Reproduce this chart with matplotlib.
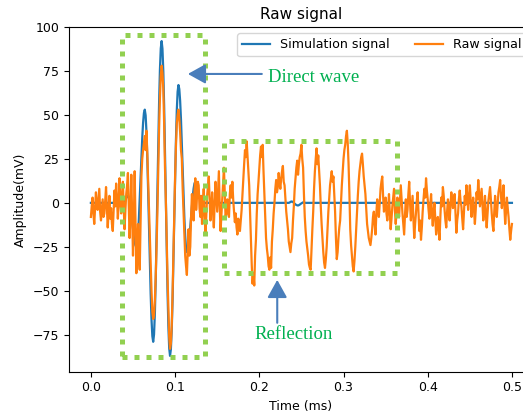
import numpy as np
import matplotlib
matplotlib.use("Agg")
import matplotlib.pyplot as plt
from matplotlib.patches import Rectangle

# Sampling step of both traces (ms)
dt = 0.001

# Measured raw signal (mV), split into stretches with their start time (ms)
raw_noise_start = [  # 0.000 - 0.035
    -8, -2, 3, -6, -12, -3, 6, -1, -4, 2, 8, -5, -10, -4, 2, -8, -6, 1,
    9, -2, -14, -6, 4, -9, -3, -12, -16, -4, 7, -2, 11, 3, -9, -1, 14, 2,
]
raw_onset = [  # 0.036 - 0.061
    -6, 4, 12, -3, -15, -4, 5, 10, 17, -2, -20, -5, 16, -8, -30, -10, 18,
    -12, -40, -25, -12, -30, -38, -10, 15, 25,
]
raw_direct = [  # 0.062 - 0.131
    30, 34, 38, 30, 41, 28, 12, -2, -20, -38,
    -50, -62, -66, -64, -55, -42, -25, -5, 20, 42,
    60, 72, 78, 74, 65, 45, 20, 2, -20, -42,
    -60, -76, -83, -80, -70, -52, -30, -8, 15, 32,
    45, 50, 53, 48, 40, 30, 25, 8, -5, -18,
    -30, -36, -41, -28, -15, -30, -25, -8, 5, -4,
    -10, 6, 14, -4, 3, 12, 10, -3, -8, 4,
]
raw_gap = [  # 0.132 - 0.161
    -12, -2, 8, -6, -17, -8, 4, 9, 15, 2, -10, -3, 6, -5, -14, 0, 12, 4,
    -5, 7, 18, -2, -16, -7, 3, 12, 20, 5, -9, -4,
]
raw_reflection = [  # 0.162 - 0.351
    2, -6, -8, 5, 10, 3, 12, 2, -5, -11,
    -6, -14, -18, -9, -12, -16, -10, -4, 5, 14,
    22, 30, 26, 35, 27, 20, 10, -5, -20, -35,
    -46, -40, -47, -30, -21, -6, 5, 12, 20, 27,
    32, 26, 33, 18, 5, -8, -20, -26, -30, -36,
    -38, -31, -37, -22, -15, -6, 0, 8, 13, 6,
    9, 17, 11, 8, 14, 18, 21, 12, 10, 2,
    -5, -10, -15, -22, -25, -28, -23, -20, -10, -2,
    8, 14, 20, 24, 16, 22, 26, 28, 33, 25,
    20, 5, -8, -16, -22, -26, -30, -35, -37, -38,
    -26, -15, -5, 8, 18, 25, 31, 22, 27, 18,
    10, -2, -12, -20, -28, -34, -37, -32, -25, -15,
    -5, 3, 10, 14, 18, 12, 15, 5, -5, -20,
    -32, -28, -20, -14, -10, 0, 10, 18, 25, 30,
    33, 38, 41, 34, 22, 5, -15, -24, -30, -36,
    -39, -33, -25, -15, -5, 4, 12, 18, 22, 26,
    28, 22, 15, 10, 5, -3, -12, -16, -20, -22,
    -24, -20, -15, -8, -5, -12, -18, -6, 2, -4,
    -8, 0, 8, 12, 15, 4, -5, -2, 3, -6,
]
raw_tail = [  # 0.352 - 0.500
    -10, -3, 5, -6, -15, -9, -2, 3, 8, -4,
    -12, -5, 3, -2, -8, 1, 10, 2, -6, -12,
    -18, -7, 2, -8, -4, 5, 12, 0, -10, -3,
    4, -9, -20, -12, -6, 1, 6, -5, -16, -10,
    -21, -14, -5, 2, 8, 3, 14, 7, 2, -4,
    -9, -1, 5, -6, -13, -5, 0, -9, -18, -12,
    -8, -15, -21, -8, 3, -2, 9, 4, -4, -10,
    -14, -5, 2, -3, -10, -2, 6, 1, -3, 2,
    5, -6, -17, -10, -6, 2, 7, 1, -2, -9,
    -15, -6, 4, -1, 10, 3, -4, 4, 10, 2,
    -8, -2, 3, -5, -12, -4, 6, 2, 13, 5,
    -2, 3, 8, -1, -10, -4, 4, -6, -14, -6,
    1, 5, 9, 2, -6, -12, -16, -5, 4, -3,
    -8, -1, 6, 9, 13, 4, -3, 3, 10, -2,
    -12, -5, 3, -3, -8, -15, -21, -16, -12,
]
raw_starts = [0.000, 0.036, 0.062, 0.132, 0.162, 0.352]
raw_parts = [raw_noise_start, raw_onset, raw_direct, raw_gap,
             raw_reflection, raw_tail]

# Simulated signal (mV) on a 0.001 ms grid from 0 to 0.5 ms
sim_wavelet = [  # 0.036 - 0.136
    0.0, 0.1, 0.3, 0.7, 1.2, 2.0, 2.8, 3.6, 4.0,
    3.3, 1.2, -2.0, -6.0, -10.5, -15.0, -19.0, -22.2, -24.3, -25.0,
    -23.1, -17.6, -8.9, 1.9, 14.0, 26.1, 36.9, 45.6, 51.1, 53.0,
    49.8, 40.4, 25.8, 7.4, -13.0, -33.4, -51.8, -66.4, -75.8, -79.0,
    -74.8, -62.7, -43.8, -19.9, 6.5, 32.9, 56.8, 75.7, 87.8, 92.0,
    87.6, 74.9, 55.1, 30.2, 2.5, -25.2, -50.1, -69.9, -82.6, -87.0,
    -83.2, -72.3, -55.3, -33.8, -10.0, 13.8, 35.3, 52.3, 63.2, 67.0,
    64.7, 57.9, 47.4, 34.2, 19.5, 4.8, -8.4, -18.9, -25.7, -28.0,
    -27.0, -24.2, -19.8, -14.2, -8.0, -1.8, 3.8, 8.2, 11.0, 12.0,
    11.5, 10.0, 7.8, 5.2, 3.0, 1.4, 0.4, 0.0, -0.3, -0.4, -0.2, 0.0,
]
sim_ripple = [  # 0.236 - 0.255
    0.2, 0.5, 0.8, 0.7, 0.5, 0.0, -0.5, -0.9, -1.2, -1.4,
    -1.5, -1.3, -1.0, -0.6, -0.3, 0.0, 0.3, 0.2, 0.1, 0.0,
]
simulation_signal = ([0.0] * 36 + sim_wavelet + [0.0] * 99 + sim_ripple
                     + [0.0] * 245)

raw_time = np.concatenate([start + np.arange(len(part)) * dt
                           for start, part in zip(raw_starts, raw_parts)])
raw_signal = np.concatenate(raw_parts)
sim_time = np.arange(len(simulation_signal)) * dt

x_ticks = [0.0, 0.1, 0.2, 0.3, 0.4, 0.5]
y_ticks = [-75, -50, -25, 0, 25, 50, 75, 100]

# Highlight boxes: (t0, t1, v0, v1)
direct_box = (0.0375, 0.136, -87.5, 95.5)
reflection_box = (0.158, 0.364, -40.0, 35.4)

box_color = "#92D050"
arrow_color = "#4A7EBB"
note_color = "#00B050"

fig = plt.figure(figsize=(5.23, 4.16), dpi=100)
ax = fig.add_axes([0.1319, 0.1065, 0.8872, 0.8286])

ax.plot(sim_time, simulation_signal, color="#1f77b4", lw=1.6,
        label="Simulation signal", zorder=3)
ax.plot(raw_time, raw_signal, color="#ff7f0e", lw=1.6,
        label="Raw signal", zorder=4)

ax.set_xlim(-0.026, 0.525)
ax.set_ylim(-96, 100)
ax.set_xticks(x_ticks)
ax.set_yticks(y_ticks)
ax.tick_params(labelsize=9)
ax.set_xlabel("Time (ms)", fontsize=9)
ax.set_ylabel("Amplitude(mV)", fontsize=9)
ax.set_title("Raw signal", fontsize=11)

for t0, t1, v0, v1 in (direct_box, reflection_box):
    ax.add_patch(Rectangle((t0, v0), t1 - t0, v1 - v0, fill=False,
                           edgecolor=box_color, lw=3.6,
                           linestyle=(0, (1, 1.4)), zorder=6))

arrow_style = dict(arrowstyle="-|>,head_length=0.9,head_width=0.5",
                   color=arrow_color, lw=1.5, mutation_scale=12,
                   shrinkA=0, shrinkB=0)
ax.annotate("", xy=(0.1152, 73.3), xytext=(0.203, 73.3),
            arrowprops=arrow_style, zorder=7)
ax.annotate("", xy=(0.2213, -43.8), xytext=(0.2213, -68.2),
            arrowprops=arrow_style, zorder=7)

ax.text(0.210, 71.2, "Direct wave", family="Liberation Serif",
        fontsize=13.5, color=note_color, va="center", ha="left")
ax.text(0.1948, -75, "Reflection", family="Liberation Serif",
        fontsize=13.5, color=note_color, va="center", ha="left")

ax.legend(loc="upper right", ncol=2, fontsize=9.1, handlelength=2.2)

fig.savefig("out.png", dpi=100)
